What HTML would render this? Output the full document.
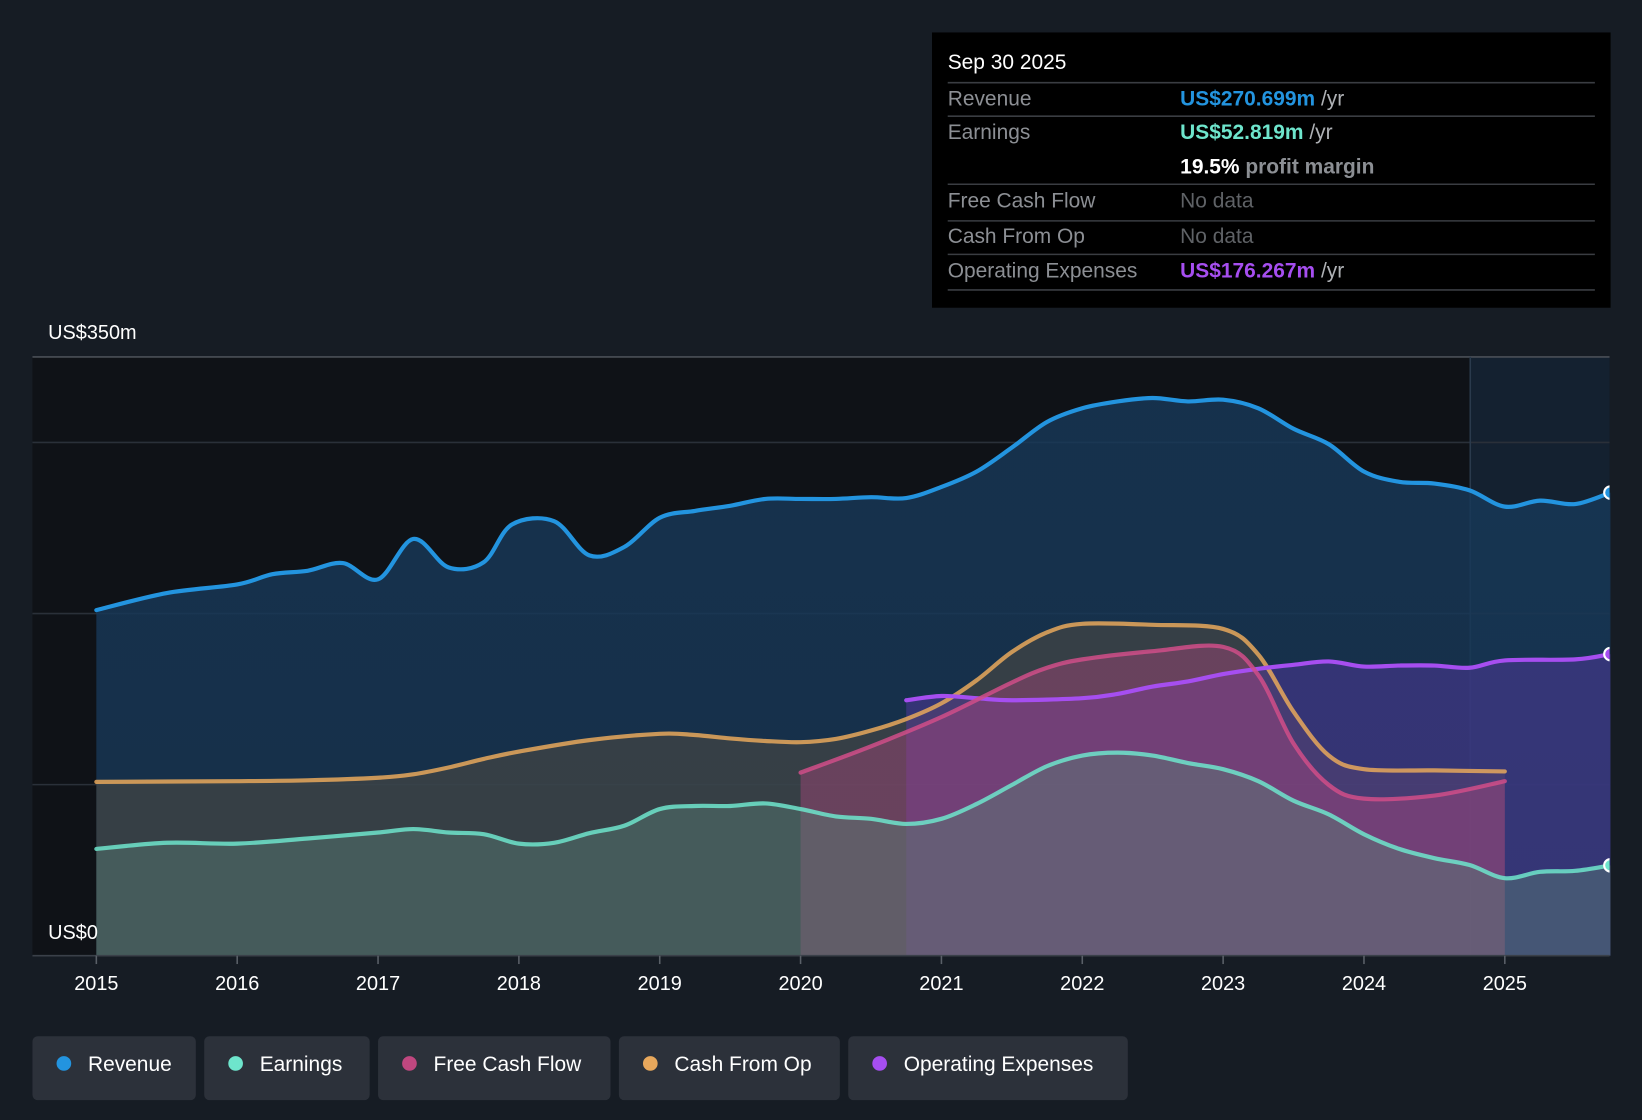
<!DOCTYPE html>
<html><head><meta charset="utf-8"><style>
html,body{margin:0;padding:0;background:#161c24;overflow:hidden}
svg{display:block;font-family:"Liberation Sans",sans-serif}
</style></head><body>
<svg id="chart" width="1642" height="1120" viewBox="0 0 1568 1070" preserveAspectRatio="none" xmlns="http://www.w3.org/2000/svg">
<defs>
<linearGradient id="revG" x1="0" y1="0" x2="0" y2="1"><stop offset="0" stop-color="#17395a" stop-opacity="0.8"/><stop offset="1" stop-color="#173552" stop-opacity="0.85"/></linearGradient>
<clipPath id="plotClip"><rect x="31" y="330" width="1506" height="590"/></clipPath>
</defs>
<rect x="0" y="0" width="1568" height="1070" fill="#161c24"/>
<rect x="31" y="341" width="1373" height="572" fill="#0f1217"/>
<rect x="1404" y="341" width="133" height="572" fill="#142130"/>
<g id="grid"></g>
<g id="areas"></g>
<g id="lines" clip-path="url(#plotClip)"></g>
<g id="axis"></g>
<text x="46" y="324" fill="#fff" font-size="19">US$350m</text>
<text x="46" y="897" fill="#fff" font-size="19">US$0</text>

<g>
<rect x="890" y="31" width="648" height="263" fill="#000"/>
<text x="905" y="66" fill="#fff" font-size="20">Sep 30 2025</text>
<g stroke="#3a3d42" stroke-width="1.5">
<line x1="905" y1="79" x2="1523" y2="79"/><line x1="905" y1="111" x2="1523" y2="111"/>
<line x1="905" y1="176" x2="1523" y2="176"/><line x1="905" y1="211" x2="1523" y2="211"/>
<line x1="905" y1="243" x2="1523" y2="243"/><line x1="905" y1="277" x2="1523" y2="277"/>
</g>
<g font-size="20" fill="#8c8f94">
<text x="905" y="101">Revenue</text><text x="905" y="133">Earnings</text>
<text x="905" y="198">Free Cash Flow</text><text x="905" y="232">Cash From Op</text>
<text x="905" y="265">Operating Expenses</text>
</g>
<g font-size="20" font-weight="bold">
<text x="1127" y="101" fill="#2394df">US$270.699m <tspan fill="#aeb1b5" font-weight="normal">/yr</tspan></text>
<text x="1127" y="133" fill="#6ee5cc">US$52.819m <tspan fill="#aeb1b5" font-weight="normal">/yr</tspan></text>
<text x="1127" y="166" fill="#fff">19.5% <tspan fill="#8c8f94">profit margin</tspan></text>
<text x="1127" y="198" fill="#5f6266" font-weight="normal">No data</text>
<text x="1127" y="232" fill="#5f6266" font-weight="normal">No data</text>
<text x="1127" y="265" fill="#a64ef0">US$176.267m <tspan fill="#aeb1b5" font-weight="normal">/yr</tspan></text>
</g>
</g>
<g id="legend"></g>
</svg>
<script>
const yearTicks=[2015,2016,2017,2018,2019,2020,2021,2022,2023,2024,2025];
const gridValues=[100,200,300,350];
const revT=[2015,2015.5,2016,2016.25,2016.5,2016.75,2017,2017.25,2017.5,2017.75,2017.95,2018.25,2018.5,2018.75,2019,2019.25,2019.5,2019.75,2020,2020.25,2020.5,2020.75,2021,2021.25,2021.5,2021.75,2022,2022.25,2022.5,2022.75,2023,2023.25,2023.5,2023.75,2024,2024.25,2024.5,2024.75,2025,2025.25,2025.5,2025.75];
const revV=[202,212,217,223,225,229.5,220,243.6,227,230,252,254,234,239,256,260,263,267,267,267,268,267.5,274,283,297,312,320,324,326,324,325,320,308,299,283,277,276,272,262.5,266,264,270.7];
const earnT=[2015,2015.5,2016,2016.5,2017,2017.25,2017.5,2017.75,2018,2018.25,2018.5,2018.75,2019,2019.25,2019.5,2019.75,2020,2020.25,2020.5,2020.75,2021,2021.25,2021.5,2021.75,2022,2022.25,2022.5,2022.75,2023,2023.25,2023.5,2023.75,2024,2024.25,2024.5,2024.75,2025,2025.25,2025.5,2025.75];
const earnV=[62.4,66,65.5,68.5,72,74,72,71,65.5,66,71.6,76,85.7,87.5,87.5,89,85.7,81.4,80,77,80,88.7,99.8,110.8,117,118.7,117,112.6,109,102,90.6,82.6,71,62.4,57,53,45.3,49,49.6,52.8];
const cfoT=[2015,2016,2016.5,2017,2017.25,2017.5,2017.75,2018,2018.5,2019,2019.25,2019.5,2019.75,2020,2020.25,2020.5,2020.75,2021,2021.25,2021.5,2021.75,2022,2022.5,2023,2023.25,2023.5,2023.75,2024,2024.5,2025];
const cfoV=[101.6,102,102.5,104,106,110,115,119.3,126,129.7,129,127,125.5,124.8,126.7,131.6,138.3,147.5,161,177.5,189,194,193.4,191,176,142.6,117,109,108.3,107.7];
const fcfT=[2020,2020.5,2021,2021.5,2021.75,2022,2022.5,2023,2023.25,2023.5,2023.75,2024,2024.5,2025];
const fcfV=[107,122.4,139.5,159.7,168.3,173.2,178,180.5,164,124,99.8,91.8,93.6,102];
const opxT=[2020.75,2021,2021.25,2021.5,2022,2022.25,2022.5,2022.75,2023,2023.25,2023.5,2023.75,2024,2024.25,2024.5,2024.75,2025,2025.5,2025.75];
const opxV=[149.3,151.8,150.5,149.3,150.5,153,157.3,160.3,164.6,167.7,170,172,169,169.6,169.6,168.3,172.6,173.2,176.3];
const legendLabels=["Revenue","Earnings","Free Cash Flow","Cash From Op","Operating Expenses"];

const NS="http://www.w3.org/2000/svg";
const X=t=>92+(t-2015)*134.5;
const Y=v=>913-v*572/350;
function mk(tag,attrs,parent){const e=document.createElementNS(NS,tag);for(const k in attrs)e.setAttribute(k,attrs[k]);parent.appendChild(e);return e;}
function smooth(T,V){const p=T.map((t,i)=>[X(t),Y(V[i])]);let d=`M${p[0][0]},${p[0][1]}`;
 for(let i=0;i<p.length-1;i++){const p0=p[i-1]||p[i],p1=p[i],p2=p[i+1],p3=p[i+2]||p2;
  const c1=[p1[0]+(p2[0]-p0[0])/6,p1[1]+(p2[1]-p0[1])/6],c2=[p2[0]-(p3[0]-p1[0])/6,p2[1]-(p3[1]-p1[1])/6];
  d+=` C${c1[0]},${c1[1]} ${c2[0]},${c2[1]} ${p2[0]},${p2[1]}`;}return d;}
function area(T,V){return smooth(T,V)+` L${X(T[T.length-1])},913 L${X(T[0])},913 Z`;}

const grid=document.getElementById('grid');
gridValues.forEach(v=>{const l=mk('line',{x1:31,x2:1537,y1:Y(v),y2:Y(v),stroke:v===350?'#4a4f57':'#2a3039','stroke-width':1.5},grid);

});
const vl=mk('line',{x1:1404,x2:1404,y1:341,y2:913,stroke:'#2a3a4c','stroke-width':1.5},grid);



const areas=document.getElementById('areas'),lines=document.getElementById('lines');
const series=[
 {n:'revenue',T:revT,V:revV,c:'#2394df',f:'url(#revG)',o:1},
 {n:'cash-from-op',T:cfoT,V:cfoV,c:'#e8a85c',f:'#5e5240',o:0.45},
 {n:'operating-expenses',T:opxT,V:opxV,c:'#a64ef0',f:'#5b3aa8',o:0.45},
 {n:'free-cash-flow',T:fcfT,V:fcfV,c:'#d04d88',f:'#b0487e',o:0.42},
 {n:'earnings',T:earnT,V:earnV,c:'#6ee5cc',f:'#587e76',o:0.45}
];
series.forEach(s=>{const a=mk('path',{d:area(s.T,s.V),fill:s.f,'fill-opacity':s.o},areas);

});
series.forEach(s=>{const l=mk('path',{d:smooth(s.T,s.V),fill:'none',stroke:s.c,'stroke-width':4,'stroke-linecap':'round','stroke-opacity':(s.n==='revenue'||s.n==='operating-expenses')?1:0.85},lines);

});
[[revT,revV,'#2394df','revenue'],[earnT,earnV,'#6ee5cc','earnings'],[opxT,opxV,'#a64ef0','operating-expenses']].forEach(([T,V,c,n])=>{
 const d=mk('circle',{cx:X(T[T.length-1]),cy:Y(V[V.length-1]),r:6,fill:c,stroke:'#fff','stroke-width':2},lines);
 
 });

const axis=document.getElementById('axis');
const al=mk('line',{x1:31,x2:1537,y1:913,y2:913,stroke:'#3a4049','stroke-width':1.5},axis);


yearTicks.forEach(t=>{mk('line',{x1:X(t),x2:X(t),y1:913,y2:921,stroke:'#5a6068','stroke-width':1.5},axis);
 const tx=mk('text',{x:X(t),y:946,fill:'#fff','font-size':19,'text-anchor':'middle'},axis);tx.textContent=t;
 
 });

const legend=document.getElementById('legend');
const lc=['#2394df','#6ee5cc','#c0477f','#e8a85c','#a64ef0'];
const lx=[31,195,361,591,810],lw=[156,158,222,211,267];
legendLabels.forEach((lab,i)=>{const g=mk('g',{},legend);
 
 
 mk('rect',{x:lx[i],y:990,width:lw[i],height:61,rx:5,fill:'#2c313a'},g);
 mk('circle',{cx:lx[i]+30,cy:1016,r:7,fill:lc[i]},g);
 const t=mk('text',{x:lx[i]+53,y:1023,fill:'#fff','font-size':20},g);t.textContent=lab;});
</script>
</body></html>
